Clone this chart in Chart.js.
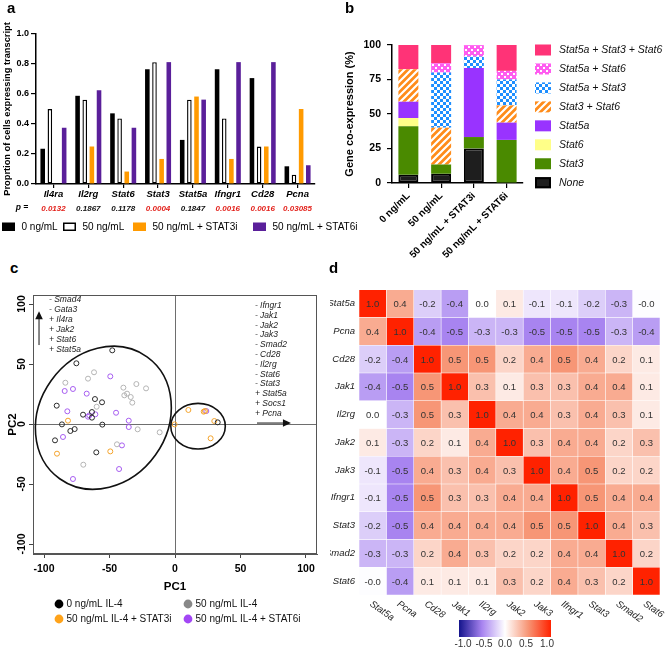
<!DOCTYPE html>
<html><head><meta charset="utf-8">
<script src="https://cdn.jsdelivr.net/npm/chart.js@4.4.1/dist/chart.umd.min.js"></script>
<style>
html,body{margin:0;padding:0;background:#fff;width:669px;height:653px;overflow:hidden;}
.panel{position:absolute;}
.letter{position:absolute;font:bold 15px 'Liberation Sans',Arial,sans-serif;line-height:15px;color:#000;z-index:5;}
</style></head><body>
<div class="panel" style="left:0;top:0;width:370px;height:240px"><canvas id="chartA"></canvas></div>
<div class="panel" style="left:320px;top:0;width:349px;height:290px"><canvas id="chartB"></canvas></div>
<div class="panel" style="left:0;top:280px;width:330px;height:373px"><canvas id="chartC"></canvas></div>
<div class="panel" style="left:330px;top:280px;width:339px;height:373px"><canvas id="chartD"></canvas></div>
<div class="letter" style="left:7px;top:0px">a</div>
<div class="letter" style="left:345px;top:0px">b</div>
<div class="letter" style="left:10px;top:260px">c</div>
<div class="letter" style="left:329px;top:260px">d</div>
<script>
// ---------------- Panel a data ----------------
const geneLabels = ['Il4ra','Il2rg','Stat6','Stat3','Stat5a','Ifngr1','Cd28','Pcna'];
const pValues = ['0.0132','0.1867','0.1178','0.0004','0.1847','0.0016','0.0016','0.03085'];
const pSignificant = [true,false,false,true,false,true,true,true];
const seriesNames = ['0 ng/mL','50 ng/mL','50 ng/mL + STAT3i','50 ng/mL + STAT6i'];
const prop0  = [0.235,0.588,0.471,0.765,0.294,0.765,0.706,0.118];
const prop50 = [0.5,0.5625,0.4375,0.8125,0.5625,0.4375,0.25,0.0625];
const prop3i = [0,0.25,0.083,0.167,0.583,0.167,0.25,0.5];
const prop6i = [0.375,0.625,0.375,0.8125,0.5625,0.8125,0.8125,0.125];

// ---------------- Panel b data ----------------
const groupLabels = ['0 ng/mL','50 ng/mL','50 ng/mL + STAT3i','50 ng/mL + STAT6i'];
const comboNames = ['None','Stat3','Stat6','Stat5a','Stat3 + Stat6','Stat5a + Stat3','Stat5a + Stat6','Stat5a + Stat3 + Stat6'];
const coNone        = [5.9, 6.7, 25.0, 0];
const coStat3       = [35.3, 6.7, 8.3, 31.25];
const coStat6       = [5.9, 0, 0, 0];
const coStat5a      = [11.8, 0, 50.0, 12.5];
const coStat3Stat6  = [23.5, 26.7, 0, 12.5];
const coStat5aStat3 = [0, 40.0, 8.3, 18.75];
const coStat5aStat6 = [0, 6.7, 8.3, 6.25];
const coAll         = [17.6, 13.3, 0, 18.75];

// ---------------- Panel c data ----------------
const pcaGroupNames = ['0 ng/mL IL-4','50 ng/mL IL-4','50 ng/mL IL-4 + STAT3i','50 ng/mL IL-4 + STAT6i'];
const pcaCtrl = [[-47.9,61.4],[-75.3,50.6],[-61.1,20.8],[-55.7,18.1],[-90.3,15.3],[-70.2,7.8],[-63.4,10],[-63.4,5.3],[-86.3,-0.3],[-55.5,-0.5],[-76.6,-4.2],[-79.9,-5.8],[-91.6,-13.6],[-60.1,-23.6],[32.6,1.4]];
const pcaIL4 = [[-61.8,43.1],[-66.4,37.8],[-83.7,34.4],[-39.4,30.3],[-29.5,33.3],[-22.1,29.7],[-36.6,25.3],[-38.7,23.9],[-33.8,22.5],[-32.6,17.8],[-59.8,14.4],[-28.5,-4.4],[-11.7,-6.9],[-44.3,-16.9],[-70,-33.9]];
const pcaSTAT3i = [[-81.7,2.8],[-49.4,-22.8],[-90.1,-24.7],[10.2,11.7],[21.9,10.3],[22.9,10.8],[-0.3,-0.3],[30,2.5],[27.2,-11.9]];
const pcaSTAT6i = [[-49.4,39.7],[-84.2,27.5],[-77.9,29.2],[-67.4,25.3],[-82.2,10.6],[-66.4,6.1],[-65.4,7.2],[-60.8,8.1],[-45,9.4],[-35.3,2.8],[-35.3,-2.5],[-85.5,-10.8],[-40.5,-17.8],[-42.7,-37.5],[-77.9,-45.8],[23.9,10.8]];
const pc2Loadings = ['- Smad4','- Gata3','+ Il4ra','+ Jak2','+ Stat6','+ Stat5a'];
const pc1Loadings = ['- Ifngr1','- Jak1','- Jak2','- Jak3','- Smad2','- Cd28','- Il2rg','- Stat6','- Stat3','+ Stat5a','+ Socs1','+ Pcna'];
// cluster ellipses: centre, semi-axes (PC units), tilt in degrees
const clusterMain  = [-54.7, 5.2, 48.9, 62.5, 35.6];
const clusterRight = [17.6, -1.8, 20.8, 19.0, 0];

// ---------------- Panel d data ----------------
const corrGenes = ['Stat5a','Pcna','Cd28','Jak1','Il2rg','Jak2','Jak3','Ifngr1','Stat3','Smad2','Stat6'];
const corrMatrix = [
  [ 1.0, 0.4,-0.2,-0.4, 0.0, 0.1,-0.1,-0.1,-0.2,-0.3,-0.01],
  [ 0.4, 1.0,-0.4,-0.5,-0.3,-0.3,-0.5,-0.5,-0.5,-0.3,-0.4],
  [-0.2,-0.4, 1.0, 0.5, 0.5, 0.2, 0.4, 0.5, 0.4, 0.2, 0.1],
  [-0.4,-0.5, 0.5, 1.0, 0.3, 0.1, 0.3, 0.3, 0.4, 0.4, 0.1],
  [ 0.0,-0.3, 0.5, 0.3, 1.0, 0.4, 0.4, 0.3, 0.4, 0.3, 0.1],
  [ 0.1,-0.3, 0.2, 0.1, 0.4, 1.0, 0.3, 0.4, 0.4, 0.2, 0.3],
  [-0.1,-0.5, 0.4, 0.3, 0.4, 0.3, 1.0, 0.4, 0.5, 0.2, 0.2],
  [-0.1,-0.5, 0.5, 0.3, 0.3, 0.4, 0.4, 1.0, 0.5, 0.4, 0.4],
  [-0.2,-0.5, 0.4, 0.4, 0.4, 0.4, 0.5, 0.5, 1.0, 0.4, 0.3],
  [-0.3,-0.3, 0.2, 0.4, 0.3, 0.2, 0.2, 0.4, 0.4, 1.0, 0.2],
  [-0.01,-0.4, 0.1, 0.1, 0.1, 0.3, 0.2, 0.4, 0.3, 0.2, 1.0]
];
const colorbarTicks = [-1.0,-0.5,0.0,0.5,1.0];

// ---------------- common ----------------
const FONT = "'Liberation Sans', Arial, Helvetica, sans-serif";
Chart.defaults.font.family = FONT;
Chart.defaults.color = '#000';
Chart.defaults.animation = false;
Chart.defaults.responsive = true;
Chart.defaults.maintainAspectRatio = false;
Chart.defaults.plugins.legend.display = false;
Chart.defaults.plugins.tooltip.enabled = false;

// ================= Panel a =================
const pluginA = {
  id: 'pluginA',
  afterDraw(chart) {
    const ctx = chart.ctx, xs = chart.scales.x;
    ctx.save();
    ctx.textBaseline = 'middle';
    ctx.textAlign = 'center';
    ctx.fillStyle = '#000';
    ctx.font = `italic bold 8.5px ${FONT}`;
    ctx.fillText('p =', 22, 208);
    ctx.font = `italic bold 8px ${FONT}`;
    geneLabels.forEach((g, i) => {
      ctx.fillStyle = pSignificant[i] ? '#e3221c' : '#111';
      ctx.fillText(pValues[i], xs.getPixelForValue(i), 208.5);
    });
    // legend
    const boxX = [2, 63, 133, 253];
    ctx.textAlign = 'left';
    ctx.font = `10px ${FONT}`;
    chart.data.datasets.forEach((ds, i) => {
      ctx.fillStyle = ds.backgroundColor;
      ctx.fillRect(boxX[i], 222.5, 13, 8.5);
      if (ds.borderWidth) { ctx.strokeStyle = '#000'; ctx.lineWidth = 1.5; ctx.strokeRect(boxX[i] + 0.75, 223.25, 11.5, 7); }
      ctx.fillStyle = '#000';
      ctx.fillText(ds.label, boxX[i] + 19.5, 227);
    });
    ctx.restore();
  }
};
new Chart(document.getElementById('chartA'), {
  type: 'bar',
  data: { labels: geneLabels, datasets: [
    { label: seriesNames[0], data: prop0, backgroundColor: '#000', borderColor: '#000', borderWidth: 0 },
    { label: seriesNames[1], data: prop50, backgroundColor: '#fff', borderColor: '#000', borderWidth: 1.4 },
    { label: seriesNames[2], data: prop3i, backgroundColor: '#ff9a00', borderWidth: 0 },
    { label: seriesNames[3], data: prop6i, backgroundColor: '#5a1f9a', borderWidth: 0 }
  ]},
  options: {
    layout: { padding: { left: 0, right: 55, top: 34, bottom: 0 } },
    datasets: { bar: { categoryPercentage: 0.82, barPercentage: 0.64, borderSkipped: false } },
    scales: {
      x: {
        grid: { offset: false, drawOnChartArea: false, drawTicks: true, tickLength: 4, color: '#000', lineWidth: 1.2 },
        border: { color: '#000', width: 1.5 },
        ticks: { autoSkip: false, maxRotation: 0, minRotation: 0, padding: 1, color: '#000', font: { size: 9.5, weight: 'bold', style: 'italic' } },
        afterFit(s) { s.height = 56; }
      },
      y: {
        min: 0, max: 1,
        ticks: { stepSize: 0.2, padding: 2, color: '#000', font: { size: 9, weight: 'bold' }, callback: v => Number(v).toFixed(1) },
        grid: { drawOnChartArea: false, drawTicks: true, tickLength: 5, color: '#000', lineWidth: 1.2 },
        border: { color: '#000', width: 1.5 },
        title: { display: true, text: 'Proprtion of cells expressing transcript', color: '#000', font: { size: 9.3, weight: 'bold' }, padding: { top: 1.5, bottom: 0 } },
        afterFit(s) { s.width = 36; }
      }
    }
  },
  plugins: [pluginA]
});

// ================= Panel b =================
function makePattern(kind, base) {
  const c = document.createElement('canvas');
  const s = kind === 'stripe' ? 7 : 6;
  c.width = s; c.height = s;
  const g = c.getContext('2d');
  g.fillStyle = base; g.fillRect(0, 0, s, s);
  g.fillStyle = '#fff'; g.strokeStyle = '#fff';
  if (kind === 'stripe') {
    g.lineWidth = 2.2;
    g.beginPath();
    g.moveTo(-1, s + 1); g.lineTo(s + 1, -1);
    g.moveTo(-1, 1); g.lineTo(1, -1);
    g.moveTo(s - 1, s + 1); g.lineTo(s + 1, s - 1);
    g.stroke();
  } else if (kind === 'check') {
    g.fillRect(0, 0, 3, 3); g.fillRect(3, 3, 3, 3);
  } else {
    g.fillRect(1, 1, 2, 2); g.fillRect(4, 4, 2, 2);
  }
  return document.createElement('canvas').getContext('2d').createPattern(c, 'repeat');
}
const coSeries = [coNone, coStat3, coStat6, coStat5a, coStat3Stat6, coStat5aStat3, coStat5aStat6, coAll];
const coFills = ['#1e1e1e', '#4a8a00', '#ffff88', '#9933ff', makePattern('stripe', '#ff8c1a'), makePattern('check', '#1e8fff'), makePattern('dots', '#ff5cf0'), '#ff3377'];
const legendB = {
  id: 'legendB',
  afterDraw(chart) {
    const ctx = chart.ctx;
    ctx.save();
    ctx.font = `italic 10.5px ${FONT}`;
    ctx.textBaseline = 'middle';
    ctx.textAlign = 'left';
    const order = [7, 6, 5, 4, 3, 2, 1, 0];
    order.forEach((di, k) => {
      const ds = chart.data.datasets[di];
      const y = 50 + k * 18.96;
      ctx.fillStyle = ds.backgroundColor;
      ctx.fillRect(215, y - 5.5, 16, 11);
      if (di === 0) { ctx.strokeStyle = '#000'; ctx.lineWidth = 2; ctx.strokeRect(216, y - 4.5, 14, 9); }
      ctx.fillStyle = '#111';
      ctx.fillText(ds.label, 239, y + 0.5);
    });
    ctx.restore();
  }
};
new Chart(document.getElementById('chartB'), {
  type: 'bar',
  data: { labels: groupLabels, datasets: coSeries.map((d, i) => ({
    label: comboNames[i], data: d, backgroundColor: coFills[i],
    borderColor: i === 0 ? '#000' : 'rgba(0,0,0,0)', borderWidth: i === 0 ? 2 : 0, borderSkipped: false
  })) },
  options: {
    layout: { padding: { left: 0, right: 146, top: 45, bottom: 0 } },
    datasets: { bar: { categoryPercentage: 1, barPercentage: 0.61 } },
    scales: {
      x: {
        stacked: true,
        grid: { offset: false, drawOnChartArea: false, drawTicks: true, tickLength: 5, color: '#000', lineWidth: 1.2 },
        border: { color: '#000', width: 1.5 },
        ticks: { autoSkip: false, minRotation: 45, maxRotation: 45, padding: 2, color: '#000', font: { size: 10, weight: 'bold' } },
        afterFit(s) { s.height = 107; }
      },
      y: {
        stacked: true, min: 0, max: 100,
        ticks: { stepSize: 25, padding: 6, color: '#000', font: { size: 10.5, weight: 'bold' } },
        grid: { drawOnChartArea: false, drawTicks: true, tickLength: 5, color: '#000', lineWidth: 1.2 },
        border: { color: '#000', width: 1.5 },
        title: { display: true, text: 'Gene co-expression (%)', color: '#000', font: { size: 11, weight: 'bold' }, padding: { top: 23, bottom: 0 } },
        afterFit(s) { s.width = 72; }
      }
    }
  },
  plugins: [legendB]
});

// ================= Panel c =================
const pcaSets = [pcaCtrl, pcaIL4, pcaSTAT3i, pcaSTAT6i];
const pcaColors = ['#2a2a2a', '#b4b4b4', '#f3a32c', '#a65cf0'];
const pcaLegendColors = ['#000', '#888', '#ffa31a', '#a347f5'];
function drawArrowHead(ctx, x, y, dir) {
  ctx.beginPath();
  if (dir === 'up') { ctx.moveTo(x, y); ctx.lineTo(x - 3.8, y + 8); ctx.lineTo(x + 3.8, y + 8); }
  else { ctx.moveTo(x, y); ctx.lineTo(x - 8, y - 3.8); ctx.lineTo(x - 8, y + 3.8); }
  ctx.closePath(); ctx.fill();
}
const pluginC = {
  id: 'pluginC',
  afterDatasetsDraw(chart) {
    const ctx = chart.ctx, xs = chart.scales.x, ys = chart.scales.y, a = chart.chartArea;
    const px = v => xs.getPixelForValue(v), py = v => ys.getPixelForValue(v);
    const ux = Math.abs(px(1) - px(0)), uy = Math.abs(py(1) - py(0));
    ctx.save();
    // frame
    ctx.strokeStyle = '#555'; ctx.lineWidth = 1;
    ctx.strokeRect(a.left + 0.5, a.top + 0.5, a.right - a.left - 1, a.bottom - a.top - 1);
    // ellipses
    ctx.strokeStyle = '#111'; ctx.lineWidth = 1.6;
    [clusterMain, clusterRight].forEach(e => {
      ctx.beginPath();
      ctx.ellipse(px(e[0]), py(e[1]), e[2] * ux, e[3] * uy, e[4] * Math.PI / 180, 0, Math.PI * 2);
      ctx.stroke();
    });
    // arrows
    ctx.strokeStyle = '#111'; ctx.fillStyle = '#111'; ctx.lineWidth = 1;
    ctx.beginPath(); ctx.moveTo(px(-103.8), py(65.8)); ctx.lineTo(px(-103.8), py(88)); ctx.stroke();
    drawArrowHead(ctx, px(-103.8), py(94), 'up');
    ctx.beginPath(); ctx.moveTo(px(62.6), py(0.8)); ctx.lineTo(px(83), py(0.8)); ctx.stroke();
    drawArrowHead(ctx, px(88.5), py(0.8), 'right');
    // loadings text
    ctx.font = `italic 8.5px ${FONT}`; ctx.textAlign = 'left'; ctx.textBaseline = 'middle'; ctx.fillStyle = '#222';
    pc2Loadings.forEach((t, i) => ctx.fillText(t, px(-96.2), py(103.3 - i * 8.22)));
    pc1Loadings.forEach((t, i) => ctx.fillText(t, px(61), py(98.6 - i * 8.15)));
    // y tick labels (rotated)
    ctx.font = `bold 10.5px ${FONT}`; ctx.fillStyle = '#000'; ctx.textAlign = 'center';
    ys.ticks.forEach(t => {
      ctx.save(); ctx.translate(22, py(t.value)); ctx.rotate(-Math.PI / 2);
      ctx.fillText(String(t.value), 0, 0); ctx.restore();
    });
    // legend
    const lx = [59, 188, 59, 188], ly = [324, 324, 339, 339];
    ctx.font = `10px ${FONT}`; ctx.textAlign = 'left';
    pcaGroupNames.forEach((n, i) => {
      ctx.fillStyle = pcaLegendColors[i];
      ctx.beginPath(); ctx.arc(lx[i], ly[i], 4.4, 0, Math.PI * 2); ctx.fill();
      ctx.fillStyle = '#111';
      ctx.fillText(n, lx[i] + 7.5, ly[i] + 0.5);
    });
    ctx.restore();
  }
};
const zeroGrid = c => (c.tick && c.tick.value === 0) ? '#6e6e6e' : 'rgba(0,0,0,0)';
new Chart(document.getElementById('chartC'), {
  type: 'scatter',
  data: { datasets: pcaSets.map((pts, i) => ({
    label: pcaGroupNames[i], data: pts.map(p => ({ x: p[0], y: p[1] })),
    borderColor: pcaColors[i], backgroundColor: 'rgba(0,0,0,0)', pointRadius: 2.5, pointHoverRadius: 2.5, borderWidth: 1
  })) },
  options: {
    layout: { padding: { left: 0, right: 13, top: 15, bottom: 0 } },
    scales: {
      x: {
        type: 'linear', min: -108.4, max: 108.4,
        ticks: { stepSize: 50, includeBounds: false, padding: 5, color: '#000', font: { size: 10.5, weight: 'bold' } },
        grid: { color: zeroGrid, tickColor: '#444', drawTicks: true, tickLength: 4, lineWidth: 1 },
        border: { color: '#555', width: 1 },
        title: { display: true, text: 'PC1', color: '#000', font: { size: 11.5, weight: 'bold' }, padding: { top: 0, bottom: 59 } },
        afterFit(s) { s.height = 99; }
      },
      y: {
        type: 'linear', min: -108.3, max: 107.5,
        ticks: { stepSize: 50, includeBounds: false, display: false },
        grid: { color: zeroGrid, tickColor: '#444', drawTicks: true, tickLength: 4, lineWidth: 1 },
        border: { color: '#555', width: 1 },
        title: { display: true, text: 'PC2', color: '#000', font: { size: 11.5, weight: 'bold' }, padding: { top: 6, bottom: 0 } },
        afterFit(s) { s.width = 33; }
      }
    }
  },
  plugins: [pluginC]
});

// ================= Panel d =================
const heatStops = [[-1, [20, 20, 140]], [-0.5, [168, 132, 240]], [0, [255, 255, 255]], [0.5, [247, 150, 118]], [1, [255, 34, 0]]];
function heatColor(v) {
  v = Math.max(-1, Math.min(1, v));
  for (let k = 0; k < heatStops.length - 1; k++) {
    const [v0, c0] = heatStops[k], [v1, c1] = heatStops[k + 1];
    if (v >= v0 && v <= v1) {
      const t = (v - v0) / (v1 - v0);
      return `rgb(${c0.map((c, m) => Math.round(c + (c1[m] - c) * t)).join(',')})`;
    }
  }
  return '#fff';
}
const pluginD = {
  id: 'pluginD',
  afterDatasetsDraw(chart) {
    const ctx = chart.ctx, xs = chart.scales.x, ys = chart.scales.y;
    ctx.save();
    // cell values
    ctx.font = `9.5px ${FONT}`; ctx.fillStyle = '#333'; ctx.textAlign = 'center'; ctx.textBaseline = 'middle';
    corrGenes.forEach((r, i) => corrGenes.forEach((c, j) => {
      ctx.fillText(corrMatrix[i][j].toFixed(1), xs.getPixelForValue(j + 0.5), ys.getPixelForValue(i) + 1);
    }));
    // column labels, rotated clockwise
    ctx.font = `italic 9.5px ${FONT}`; ctx.fillStyle = '#222'; ctx.textAlign = 'left';
    corrGenes.forEach((c, j) => {
      ctx.save();
      ctx.translate(xs.getPixelForValue(j + 0.5) - 2, chart.chartArea.bottom + 8);
      ctx.rotate(35 * Math.PI / 180);
      ctx.fillText(c, 0, 0);
      ctx.restore();
    });
    // colour bar
    const x0 = 129, x1 = 221, y0 = 340, h = 17;
    const grad = ctx.createLinearGradient(x0, 0, x1, 0);
    heatStops.forEach(s => grad.addColorStop((s[0] + 1) / 2, `rgb(${s[1].join(',')})`));
    ctx.fillStyle = grad; ctx.fillRect(x0, y0, x1 - x0, h);
    ctx.font = `10px ${FONT}`; ctx.fillStyle = '#333'; ctx.textAlign = 'center';
    colorbarTicks.forEach((t, k) => ctx.fillText(t.toFixed(1), 133 + k * 21, 364));
    ctx.restore();
  }
};
new Chart(document.getElementById('chartD'), {
  type: 'bar',
  data: { labels: corrGenes, datasets: corrGenes.map((g, j) => ({
    label: g, data: corrGenes.map(() => [j, j + 1]),
    backgroundColor: corrGenes.map((r, i) => heatColor(corrMatrix[i][j])),
    borderColor: 'rgba(255,255,255,0.55)', borderWidth: 0.6, borderSkipped: false,
    grouped: false, barPercentage: 1, categoryPercentage: 1
  })) },
  options: {
    indexAxis: 'y',
    layout: { padding: { left: 0, right: 9, top: 7, bottom: 0 } },
    scales: {
      x: { type: 'linear', min: 0, max: 11, ticks: { display: false }, grid: { display: false, drawTicks: false }, border: { display: false }, afterFit(s) { s.height = 58; } },
      y: { type: 'category', ticks: { padding: 4, color: '#222', font: { size: 9.5, style: 'italic' } }, grid: { display: false, drawTicks: false }, border: { display: false }, afterFit(s) { s.width = 29; } }
    }
  },
  plugins: [pluginD]
});
</script>
</body></html>
